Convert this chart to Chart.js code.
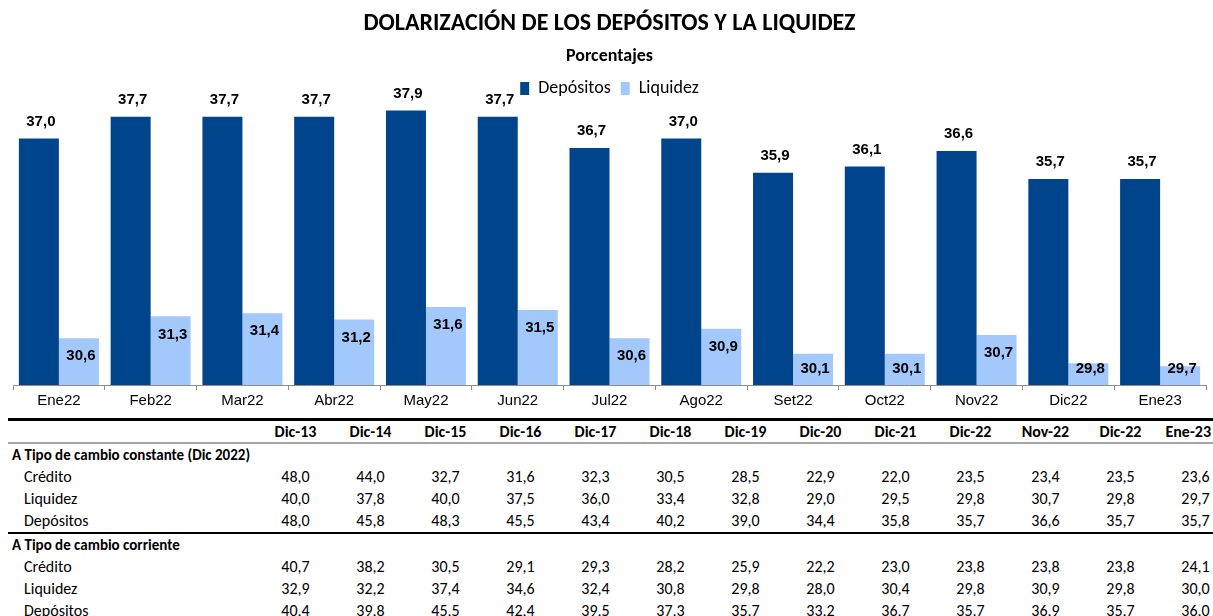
<!DOCTYPE html>
<html>
<head>
<meta charset="utf-8">
<script src="https://cdn.jsdelivr.net/npm/chart.js@4"></script>
<style>
  html, body { margin: 0; padding: 0; background: #fff; overflow: hidden; }
  body { width: 1213px; height: 616px; position: relative; }
  .chart-box { position: absolute; left: 0; top: 0; width: 1213px; height: 414px; }
  .tabla { position: absolute; left: 8px; top: 418px; width: 1225px; border-collapse: collapse;
    table-layout: fixed; font-family: Carlito, Lato, sans-serif; font-size: 16px; color: #000; }
  .tabla td { padding: 0; height: 22px; line-height: 22px; white-space: nowrap; text-align: center; }
  .tabla td.lbl { text-align: left; padding-left: 16px; }
  .tabla tr.sec td { font-weight: bold; font-size: 15px; }
  .tabla tr.sec td.lbl { padding-left: 4px; }
  .tabla tr.head td { font-weight: bold; height: 21px; line-height: 21px; border-top: 3px solid #000; border-bottom: 2px solid #a6a6a6; }
  .tabla tr.head td.ult { text-align: right; padding-right: 22px; }
  .tabla tr.cierre td { border-bottom: 2px solid #000; }
</style>
</head>
<body>
<div class="chart-box"><canvas id="dolarChart"></canvas></div>
<table class="tabla" id="tabla"></table>
<script>
// meses del gráfico
const meses = ["Ene22", "Feb22", "Mar22", "Abr22", "May22", "Jun22", "Jul22",
  "Ago22", "Set22", "Oct22", "Nov22", "Dic22", "Ene23"];
const depositos = [37.0, 37.7, 37.7, 37.7, 37.9, 37.7, 36.7, 37.0, 35.9, 36.1, 36.6, 35.7, 35.7];
const liquidez = [30.6, 31.3, 31.4, 31.2, 31.6, 31.5, 30.6, 30.9, 30.1, 30.1, 30.7, 29.8, 29.7];

// cuadro inferior
const columnas = ["Dic-13", "Dic-14", "Dic-15", "Dic-16", "Dic-17", "Dic-18", "Dic-19",
  "Dic-20", "Dic-21", "Dic-22", "Nov-22", "Dic-22", "Ene-23"];
const creditoConst = [48.0, 44.0, 32.7, 31.6, 32.3, 30.5, 28.5, 22.9, 22.0, 23.5, 23.4, 23.5, 23.6];
const liquidezConst = [40.0, 37.8, 40.0, 37.5, 36.0, 33.4, 32.8, 29.0, 29.5, 29.8, 30.7, 29.8, 29.7];
const depositosConst = [48.0, 45.8, 48.3, 45.5, 43.4, 40.2, 39.0, 34.4, 35.8, 35.7, 36.6, 35.7, 35.7];
const creditoCorr = [40.7, 38.2, 30.5, 29.1, 29.3, 28.2, 25.9, 22.2, 23.0, 23.8, 23.8, 23.8, 24.1];
const liquidezCorr = [32.9, 32.2, 37.4, 34.6, 32.4, 30.8, 29.8, 28.0, 30.4, 29.8, 30.9, 29.8, 30.0];
const depositosCorr = [40.4, 39.8, 45.5, 42.4, 39.5, 37.3, 35.7, 33.2, 36.7, 35.7, 36.9, 35.7, 36.0];

const fmt = (v) => v.toFixed(1).replace(".", ",");

const AZUL = "#00458b";
const CELESTE = "#a3c8fb";
const Y_MIN = 29.1;
const PX_POR_PUNTO = 31.2; // escala vertical del original

// etiquetas de valor sobre / dentro de las barras
const etiquetas = {
  id: "etiquetas",
  afterDatasetsDraw(chart) {
    const ctx = chart.ctx;
    const base = chart.chartArea.bottom;
    ctx.save();
    ctx.font = "bold 15px 'Liberation Sans', Arial, sans-serif";
    ctx.fillStyle = "#000";
    ctx.textAlign = "center";
    ctx.textBaseline = "middle";
    chart.getDatasetMeta(0).data.forEach((bar, i) => {
      ctx.fillText(fmt(depositos[i]), bar.x + 2, bar.y - 17);
    });
    chart.getDatasetMeta(1).data.forEach((bar, i) => {
      ctx.fillText(fmt(liquidez[i]), bar.x + 2, Math.min(bar.y + 18, base - 16));
    });
    ctx.restore();
  },
};

let ctx = document.getElementById("dolarChart").getContext("2d");

window.dolarChart = new Chart(ctx, {
  type: "bar",
  data: {
    labels: meses,
    datasets: [
      {
        label: "Depósitos",
        data: depositos,
        backgroundColor: AZUL,
        categoryPercentage: 0.872,
        barPercentage: 1,
      },
      {
        label: "Liquidez",
        data: liquidez,
        backgroundColor: CELESTE,
        categoryPercentage: 0.872,
        barPercentage: 1,
      },
    ],
  },
  options: {
    responsive: true,
    maintainAspectRatio: false,
    animation: false,
    layout: {
      padding: { left: 13, right: 7, top: 0, bottom: 2 },
    },
    scales: {
      y: {
        display: false,
        min: Y_MIN,
        max: 38.1,
      },
      x: {
        grid: {
          drawOnChartArea: false,
          drawTicks: true,
          tickLength: 5,
          color: "#8c8c8c",
        },
        border: { color: "#8c8c8c", width: 1 },
        ticks: {
          color: "#000",
          padding: 2,
          font: { family: "'Liberation Sans', Arial, sans-serif", size: 15 },
        },
      },
    },
    plugins: {
      title: {
        display: true,
        text: "DOLARIZACIÓN DE LOS DEPÓSITOS Y LA LIQUIDEZ",
        color: "#000",
        font: { family: "Carlito, Lato, sans-serif", size: 24, weight: "bold" },
        padding: { top: 10, bottom: 7 },
      },
      subtitle: {
        display: true,
        text: "Porcentajes",
        color: "#000",
        font: { family: "Carlito, Lato, sans-serif", size: 18, weight: "bold" },
        padding: { top: 0, bottom: 2 },
      },
      legend: {
        labels: {
          color: "#000",
          boxWidth: 9,
          boxHeight: 13,
          padding: 10,
          font: { family: "Carlito, Lato, sans-serif", size: 18 },
        },
      },
      tooltip: { enabled: false },
    },
  },
  plugins: [etiquetas],
});

// ajustar el máximo para conservar la escala vertical del original
const area = dolarChart.chartArea;
dolarChart.options.scales.y.max = Y_MIN + (area.bottom - area.top) / PX_POR_PUNTO;
dolarChart.update();

// armar el cuadro
const tabla = document.getElementById("tabla");
let html = '<colgroup><col style="width:250px">' + columnas.map(() => '<col style="width:75px">').join("") + "</colgroup>";
html += '<tr class="head"><td class="lbl"></td>' +
  columnas.map((c, i) => "<td" + (i === columnas.length - 1 ? ' class="ult"' : "") + ">" + c + "</td>").join("") + "</tr>";
const fila = (nombre, vals, cls) =>
  '<tr class="' + (cls || "") + '"><td class="lbl">' + nombre + "</td>" + vals.map((v) => "<td>" + fmt(v) + "</td>").join("") + "</tr>";
html += '<tr class="sec"><td class="lbl" colspan="5">A Tipo de cambio constante (Dic 2022)</td></tr>';
html += fila("Crédito", creditoConst);
html += fila("Liquidez", liquidezConst);
html += fila("Depósitos", depositosConst, "cierre");
html += '<tr class="sec"><td class="lbl" colspan="5">A Tipo de cambio corriente</td></tr>';
html += fila("Crédito", creditoCorr);
html += fila("Liquidez", liquidezCorr);
html += fila("Depósitos", depositosCorr);
tabla.innerHTML = html;
</script>
</body>
</html>
